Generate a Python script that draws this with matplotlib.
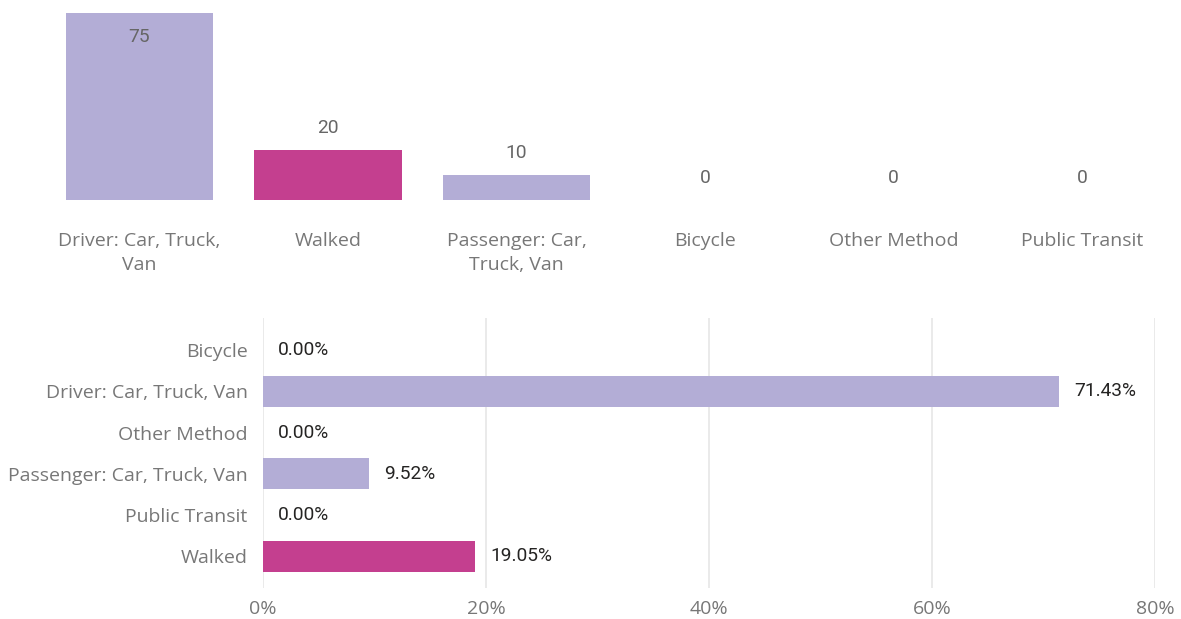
import matplotlib
matplotlib.use("Agg")
import matplotlib.pyplot as plt
from matplotlib.ticker import FuncFormatter

# Data
top_categories = ["Driver: Car, Truck,\nVan", "Walked", "Passenger: Car,\nTruck, Van",
                  "Bicycle", "Other Method", "Public Transit"]
top_values = [75, 20, 10, 0, 0, 0]
top_highlight = [False, True, False, False, False, False]

bottom_categories = ["Bicycle", "Driver: Car, Truck, Van", "Other Method",
                     "Passenger: Car, Truck, Van", "Public Transit", "Walked"]
bottom_values = [0.0, 71.43, 0.0, 9.52, 0.0, 19.05]
bottom_highlight = [False, False, False, False, False, True]
x_ticks = [0, 20, 40, 60, 80]

LAV = "#B3ADD6"
MAG = "#C43F8F"
LABEL_GRAY = "#777777"
CAT_FONT = "Open Sans"
VAL_FONT = "Roboto"
CAT_SIZE = 14
VAL_SIZE = 13.8

W, H = 1181, 619
fig = plt.figure(figsize=(W / 100, H / 100), dpi=100)

# ---- Top column chart ----
ax1 = fig.add_axes([45.25 / W, 1 - 200 / H, (1176.25 - 45.25) / W, (200 - 13) / H])
xs = list(range(len(top_values)))
cols = [MAG if h else LAV for h in top_highlight]
ax1.bar(xs, top_values, width=0.78, color=cols)
ax1.set_xlim(-0.5, len(top_values) - 0.5)
ax1.set_ylim(0, 75)
for s in ax1.spines.values():
    s.set_visible(False)
ax1.set_yticks([])
ax1.set_xticks(xs)
ax1.set_xticklabels(top_categories, fontsize=CAT_SIZE, color=LABEL_GRAY, family=CAT_FONT,
                    linespacing=1.45, va="top")
ax1.tick_params(axis="x", length=0, pad=23)
for x, v in zip(xs, top_values):
    off = -24 if v >= 60 else 22
    ax1.annotate(f"{v}", (x, v), xytext=(0, off), textcoords="offset pixels",
                 ha="center", va="center", fontsize=VAL_SIZE, color="#666666",
                 family=VAL_FONT)

# ---- Bottom bar chart ----
ax2 = fig.add_axes([263 / W, 1 - 588 / H, (1155 - 263) / W, (588 - 318) / H])
ys = list(range(len(bottom_values)))
cols2 = [MAG if h else LAV for h in bottom_highlight]
ax2.barh(ys, bottom_values, height=0.75, color=cols2, zorder=2)
ax2.set_xlim(0, 80)
ax2.set_ylim(5.77, -0.78)
for s in ax2.spines.values():
    s.set_visible(False)
ax2.set_xticks(x_ticks)
ax2.xaxis.set_major_formatter(FuncFormatter(lambda v, p: f"{int(v)}%"))
ax2.grid(axis="x", color="#E6E6E6", linewidth=1.2, zorder=0)
ax2.tick_params(axis="x", length=0, pad=9, labelsize=CAT_SIZE, labelcolor=LABEL_GRAY)
for lab in ax2.get_xticklabels():
    lab.set_family(CAT_FONT)
ax2.set_yticks(ys)
ax2.set_yticklabels(bottom_categories, fontsize=CAT_SIZE, color=LABEL_GRAY, family=CAT_FONT)
ax2.tick_params(axis="y", length=0, pad=11)
for y, v in zip(ys, bottom_values):
    ax2.annotate(f"{v:.2f}%", (v, y), xytext=(15, 0), textcoords="offset pixels",
                 ha="left", va="center", fontsize=VAL_SIZE, color="#252423",
                 family=VAL_FONT)

fig.savefig("out.png", dpi=100)
